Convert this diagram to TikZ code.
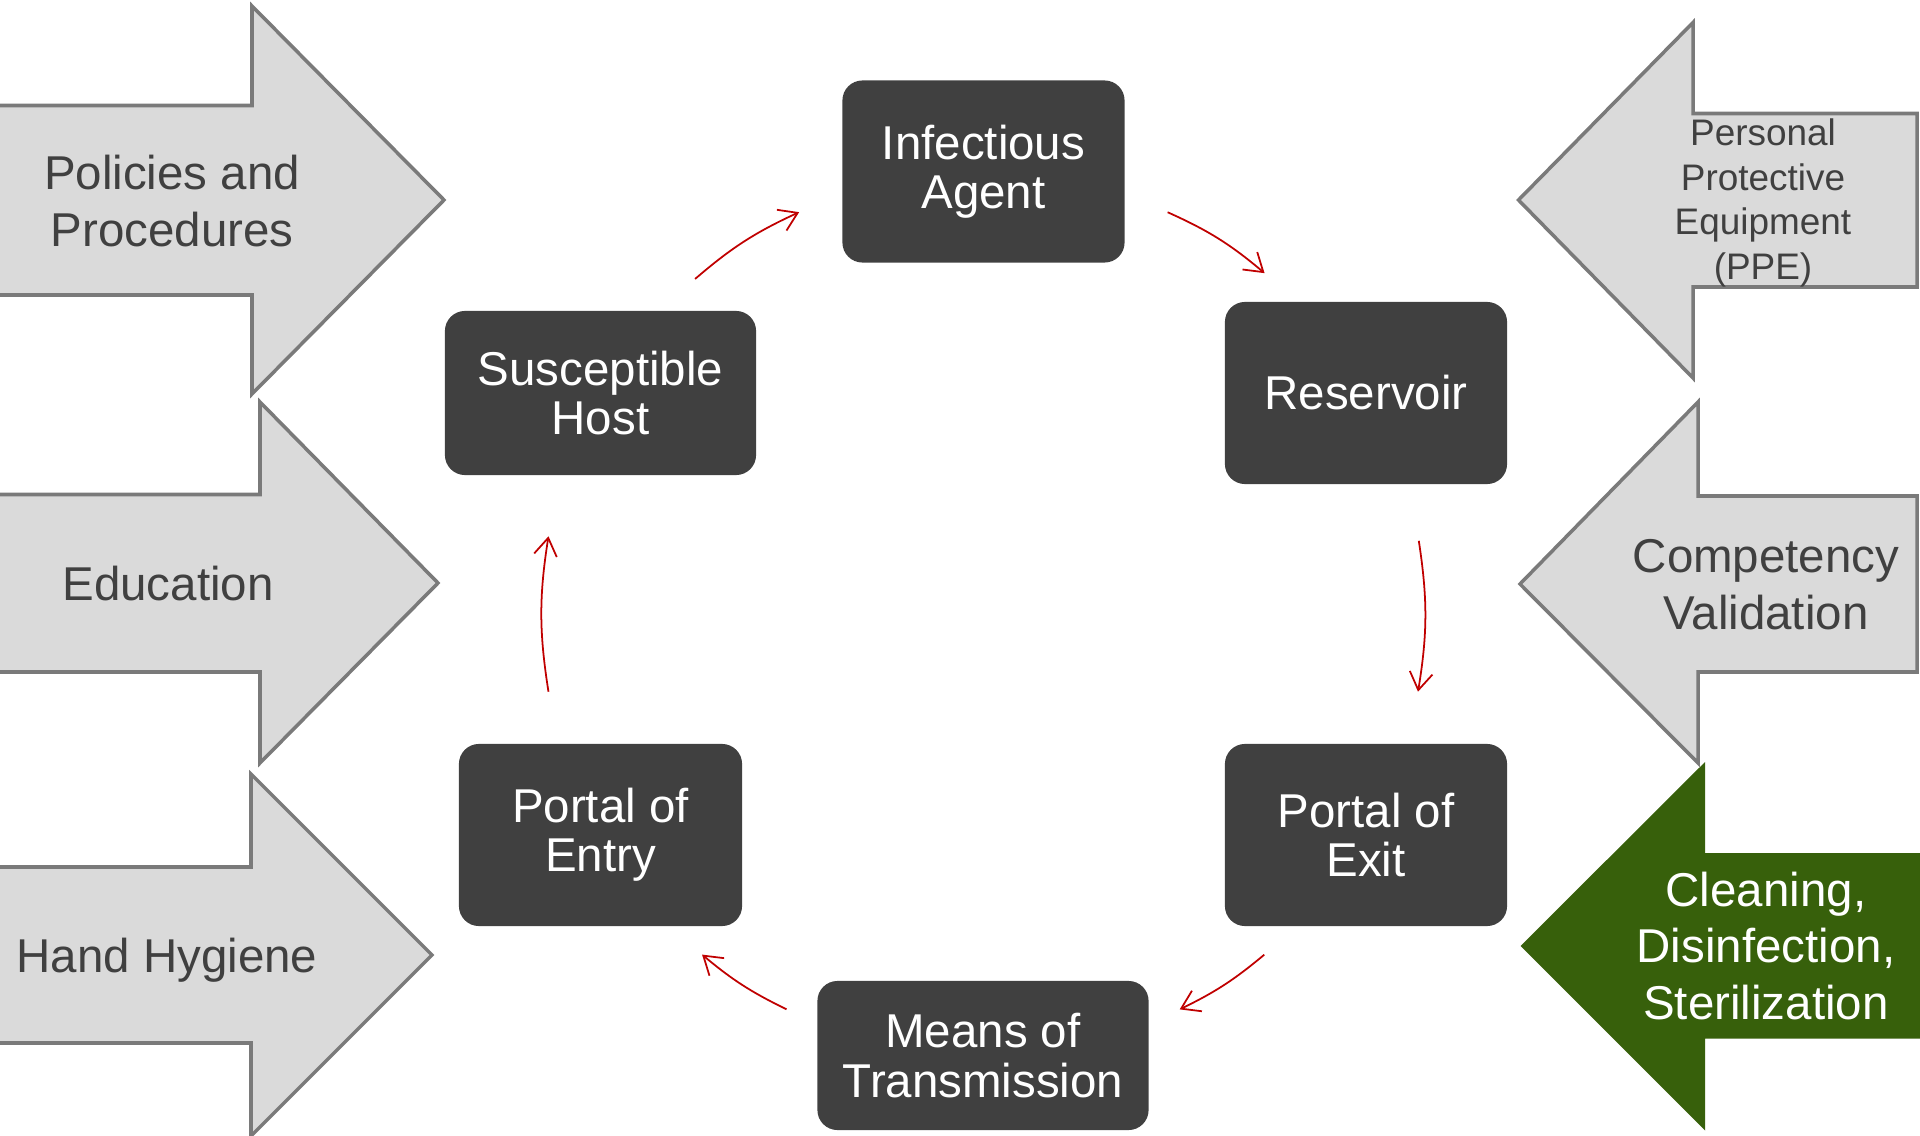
\documentclass[tikz,border=0pt]{standalone}
\usepackage{fontspec}
\setmainfont{Liberation Sans}
\usepackage{tikz}
\usetikzlibrary{arrows.meta}
\definecolor{boxgray}{HTML}{404040}
\definecolor{sidefill}{HTML}{DADADA}
\definecolor{sideline}{HTML}{7A7A7A}
\definecolor{cleangreen}{HTML}{37600B}
\definecolor{cyclered}{HTML}{C00000}

\tikzset{
	stage/.style={fill=boxgray, rounded corners=0.2cm, text=white, align=center, inner sep=0pt,
		font=\fontsize{13.5}{14}\selectfont, minimum width=2.82cm, minimum height=1.82cm},
	sidearrow/.style={fill=sidefill, draw=sideline, line width=1pt},
	sidelabel/.style={text=boxgray, align=center, font=\fontsize{13.5}{16.2}\selectfont},
	cyclink/.style={draw=cyclered, line width=0.5pt, -{Straight Barb[length=5pt,width=6.5pt]}},
	cycpath/.style={bend left=30, looseness=0.91}
}

\begin{document}
\begin{tikzpicture}[x=0.01cm, y=0.01cm]
				
					\useasboundingbox (0,0) rectangle (1920,1135);
					
					% left arrows
					\draw[sidearrow] (-10,1029.5) -- (252,1029.5) -- (252,1129) -- (444,935) -- (252,741) -- (252,840) -- (-10,840) -- cycle;
					\draw[sidearrow] (-10,640.5) -- (260,640.5) -- (260,733) -- (438,552) -- (260,372) -- (260,463) -- (-10,463) -- cycle;
					\draw[sidearrow] (-10,268) -- (251,268) -- (251,361) -- (432,180) -- (251,-1) -- (251,92) -- (-10,92) -- cycle;
					
					% right arrows
					\draw[sidearrow] (1917,1021.5) -- (1693,1021.5) -- (1693,1112.5) -- (1518.5,935) -- (1693,757) -- (1693,848) -- (1917,848) -- cycle;
					\draw[sidearrow] (1917,639) -- (1698,639) -- (1698,733) -- (1520,551) -- (1698,372) -- (1698,463) -- (1917,463) -- cycle;
					\fill[cleangreen] (1930,282) -- (1705,282) -- (1705,373) -- (1520.5,189) -- (1705,4.5) -- (1705,96.5) -- (1930,96.5) -- cycle;
					
					\node[sidelabel] (policies) at (172,934) {Policies and\\Procedures};
					\node[sidelabel] (education) at (168,551) {Education};
					\node[sidelabel] (hygiene) at (167,175) {Hand Hygiene};
					\node[sidelabel, font=\fontsize{10.5}{12.7}\selectfont] (ppe) at (1763,932) {Personal\\Protective\\Equipment\\(PPE)};
					\node[sidelabel] (competency) at (1766,550) {Competency\\Validation};
					\node[sidelabel, text=white] (cleaning) at (1766,189) {Cleaning,\\Disinfection,\\Sterilization};
					
					% chain of infection
					\node[stage] (ia) at (983.5,963.5) {Infectious\\Agent};
					\node[stage] (res) at (1366,742) {Reservoir};
					\node[stage] (exit) at (1366,300) {Portal of\\Exit};
					\node[stage, minimum width=3.31cm, minimum height=1.49cm] (mot) at (983,79.5) {Means of\\Transmission};
					\node[stage, minimum width=2.83cm] (entry) at (600.5,300) {Portal of\\Entry};
					\node[stage, minimum width=3.11cm, minimum height=1.64cm] (host) at (600.5,742) {Susceptible\\Host};
					
					\path (host.center) to[cycpath] coordinate[pos=0.32] (l1s) coordinate[pos=0.59] (l1e) (ia.center);
					\path (ia.center) to[cycpath] coordinate[pos=0.41] (l2s) coordinate[pos=0.66] (l2e) (res.center);
					\path (res.center) to[cycpath] coordinate[pos=0.34] (l3s) coordinate[pos=0.67] (l3e) (exit.center);
					\path (exit.center) to[cycpath] coordinate[pos=0.34] (l4s) coordinate[pos=0.56] (l4e) (mot.center);
					\path (mot.center) to[cycpath] coordinate[pos=0.44] (l5s) coordinate[pos=0.66] (l5e) (entry.center);
					\path (entry.center) to[cycpath] coordinate[pos=0.33] (l6s) coordinate[pos=0.67] (l6e) (host.center);
					
					\draw[cyclink] (l1s) to[bend left=8] (l1e);
					\draw[cyclink] (l2s) to[bend left=8] (l2e);
					\draw[cyclink] (l3s) to[bend left=9] (l3e);
					\draw[cyclink] (l4s) to[bend left=7] (l4e);
					\draw[cyclink] (l5s) to[bend left=7] (l5e);
					\draw[cyclink] (l6s) to[bend left=9] (l6e);

				\end{tikzpicture}
\end{document}
